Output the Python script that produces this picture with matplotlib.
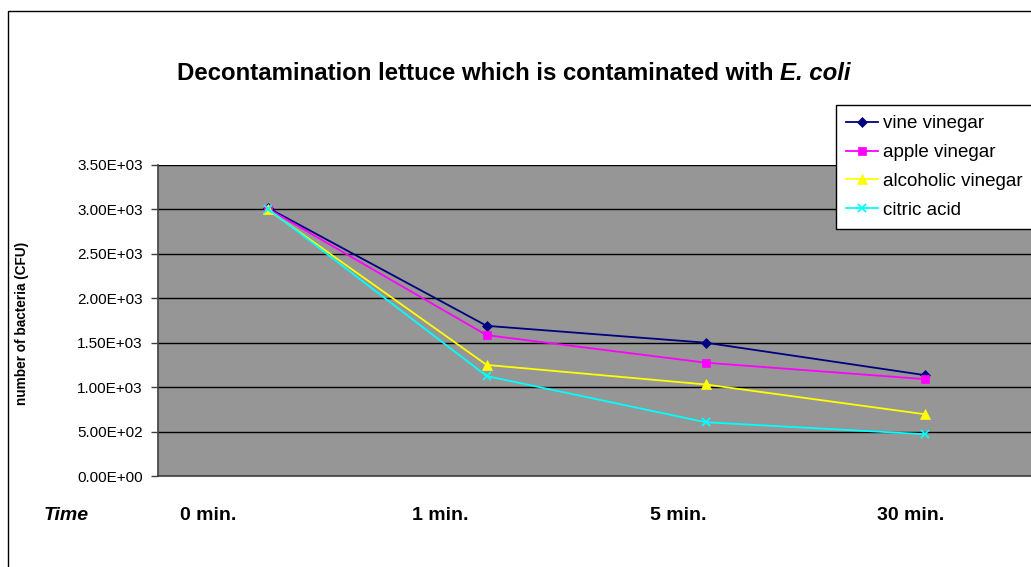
import matplotlib
matplotlib.use("Agg")
import matplotlib.pyplot as plt
from matplotlib.patches import Rectangle

plt.rcParams["font.family"] = ["Liberation Sans", "DejaVu Sans"]

# data
times = ["0 min.", "1 min.", "5 min.", "30 min."]
vine_vinegar = [3020, 1690, 1500, 1135]
apple_vinegar = [3010, 1585, 1275, 1090]
alcoholic_vinegar = [3000, 1250, 1030, 695]
citric_acid = [3010, 1125, 605, 470]

series = [
    ("vine vinegar", vine_vinegar, "#000080", "D", 5),
    ("apple vinegar", apple_vinegar, "#FF00FF", "s", 5.5),
    ("alcoholic vinegar", alcoholic_vinegar, "#FFFF00", "^", 7),
    ("citric acid", citric_acid, "#00FFFF", "x", 6),
]

W, H = 1031, 567
fig = plt.figure(figsize=(W / 100, H / 100), dpi=100)

# outer chart border (only left and top edges visible)
fig.patches.append(Rectangle((8 / W, -0.1), 1.2, 1.1 - 11 / H, transform=fig.transFigure,
                             fill=False, edgecolor="black", linewidth=1.0))

ax = fig.add_axes([158 / W, 1 - 476 / H, 876.5 / W, 311 / H])
ax.set_facecolor("#969696")

xs = [i + 0.5 for i in range(len(times))]
for name, vals, col, mk, ms in series:
    ax.plot(xs, vals, color=col, marker=mk, markersize=ms, linewidth=1.3,
            markeredgewidth=1.3 if mk == "x" else 0.5, label=name, zorder=3)

ax.set_xlim(0, 4)
ax.set_ylim(0, 3500)
ax.set_yticks(range(0, 3501, 500))
ax.set_yticklabels([f"{v:.2E}" for v in range(0, 3501, 500)], fontsize=11)
ax.set_xticks([])
ax.grid(axis="y", color="black", linewidth=1.0, zorder=1)
ax.set_axisbelow(True)
for s in ["top", "right"]:
    ax.spines[s].set_visible(False)
for s in ["left", "bottom"]:
    ax.spines[s].set_color("#404040")
    ax.spines[s].set_linewidth(1.2)
ax.tick_params(axis="y", length=5, width=1, color="#404040", pad=6)

ax.set_ylabel("number of bacteria (CFU)", fontsize=9.8, fontweight="bold")
ax.yaxis.set_label_coords(29 / W, 1 - 323 / H, transform=fig.transFigure)

# title: bold part plus bold italic species name
t1 = fig.text(177 / W, 1 - 74 / H, "Decontamination lettuce which is contaminated with ",
              ha="left", va="center", fontsize=17.3, fontweight="bold")
ax.annotate("E. coli", xy=(1, 0), xycoords=t1, va="bottom", ha="left",
            fontsize=17.3, fontweight="bold", fontstyle="italic",
            annotation_clip=False)

# category labels row under the plot
label_x = [208, 440, 678, 911]
fig.text(66 / W, 1 - 515 / H, "Time", ha="center", va="center",
         fontsize=14, fontweight="bold", fontstyle="italic")
for lx, t in zip(label_x, times):
    fig.text(lx / W, 1 - 515 / H, t, ha="center", va="center",
             fontsize=14, fontweight="bold")

leg = ax.legend(loc="upper left", bbox_to_anchor=(836 / W, 1 - 105 / H),
                bbox_transform=fig.transFigure, fontsize=13.5, frameon=True,
                fancybox=False, edgecolor="black", framealpha=1,
                borderaxespad=0, borderpad=0.55, handlelength=1.7,
                handletextpad=0.25, labelspacing=0.62)
leg.get_frame().set_linewidth(1.0)
leg.set_zorder(10)

fig.savefig("out.png", dpi=100)
